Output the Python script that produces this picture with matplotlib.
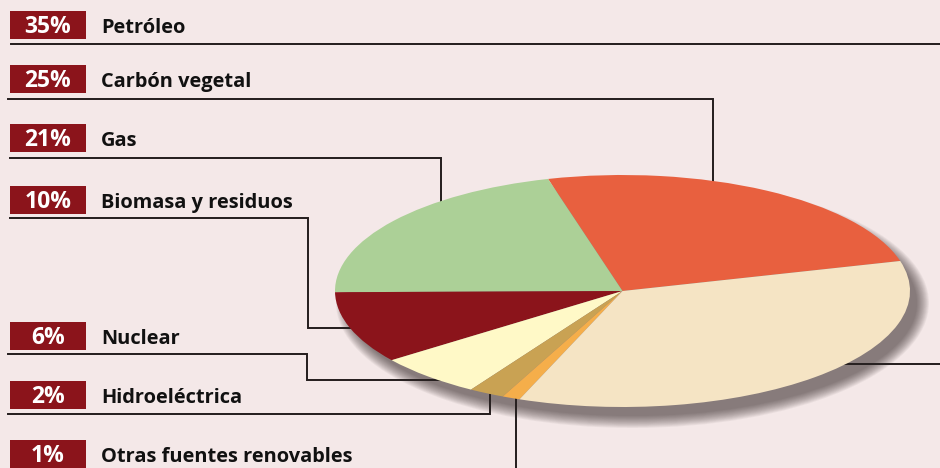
import numpy as np
import matplotlib

matplotlib.use("Agg")
import matplotlib.pyplot as plt
from matplotlib.patches import Ellipse, Rectangle

# --- data ---
labels = ["Petróleo", "Carbón vegetal", "Gas", "Biomasa y residuos",
          "Nuclear", "Hidroeléctrica", "Otras fuentes renovables"]
shares = [35, 25, 21, 10, 6, 2, 1]
colors = ["#f5e4c4", "#e8603f", "#acd097", "#8b141b",
          "#fff9c7", "#c9a253", "#f5ae4a"]

# pie drawn counter-clockwise starting at the Carbón / Petróleo border
pie_order = [1, 2, 3, 4, 5, 6, 0]
start_deg = 15.0

BG = "#f4e8e8"
BOX = "#8b141b"
INK = "#231c1c"

W, H = 940, 468
fig = plt.figure(figsize=(W / 100, H / 100), dpi=100, facecolor=BG)

# background axes in pixel coordinates (y down)
bg = fig.add_axes([0, 0, 1, 1])
bg.set_xlim(0, W)
bg.set_ylim(H, 0)
bg.axis("off")

# label rows: box top y and leader line routing
row_top = [11, 65, 124, 186, 322, 381, 440]
leaders = [
    [(11, 43.7), (940, 43.7)],
    [(8, 99), (713, 99), (713, 185)],
    [(10, 157.5), (441, 157.5), (441, 210)],
    [(10, 218), (308, 218), (308, 328), (350, 328)],
    [(8, 354), (307, 354), (307, 380), (445, 380)],
    [(8, 414), (490, 414), (490, 395)],
    [(516, 398), (516, 470)],
]
for pts in leaders:
    xs, ys = zip(*pts)
    bg.plot(xs, ys, color=INK, lw=1.4, solid_joinstyle="miter", zorder=1)
# Petróleo pointer entering from the right edge
bg.plot([843, 940], [364, 364], color=INK, lw=1.4, zorder=1)

for lab, pct, top in zip(labels, shares, row_top):
    bg.add_patch(Rectangle((10, top), 76, 28, color=BOX, lw=0, zorder=3))
    base = top + 22
    bg.text(48, base, f"{pct}%", color="white", fontsize=16.5,
            fontweight="bold", family="Open Sans", ha="center",
            va="baseline", zorder=4)
    bg.text(101, base, lab, color="#111111", fontsize=14.4,
            fontweight="bold", family="Open Sans", ha="left",
            va="baseline", zorder=4)

# pie geometry (pixels)
cx, cy, a, b = 622.5, 291.0, 287.5, 116.0

# soft drop shadow, lower right
for g in np.linspace(9, -3, 14):
    bg.add_patch(Ellipse((cx + 10, cy + 12), 2 * a + 2 * g, 2 * b + 2 * g,
                         color="#2a2222", alpha=0.05, lw=0, zorder=2))

# squashed pie in its own transparent axes
pax = fig.add_axes([(cx - a) / W, (H - cy - b) / H, 2 * a / W, 2 * b / H])
pax.set_facecolor("none")
pax.pie([shares[i] for i in pie_order],
        colors=[colors[i] for i in pie_order],
        startangle=start_deg, counterclock=True, radius=1.0,
        wedgeprops=dict(lw=0))
pax.set_aspect("auto")
pax.set_xlim(-1, 1)
pax.set_ylim(-1, 1)
pax.axis("off")

fig.savefig("out.png", dpi=100, facecolor=BG)
